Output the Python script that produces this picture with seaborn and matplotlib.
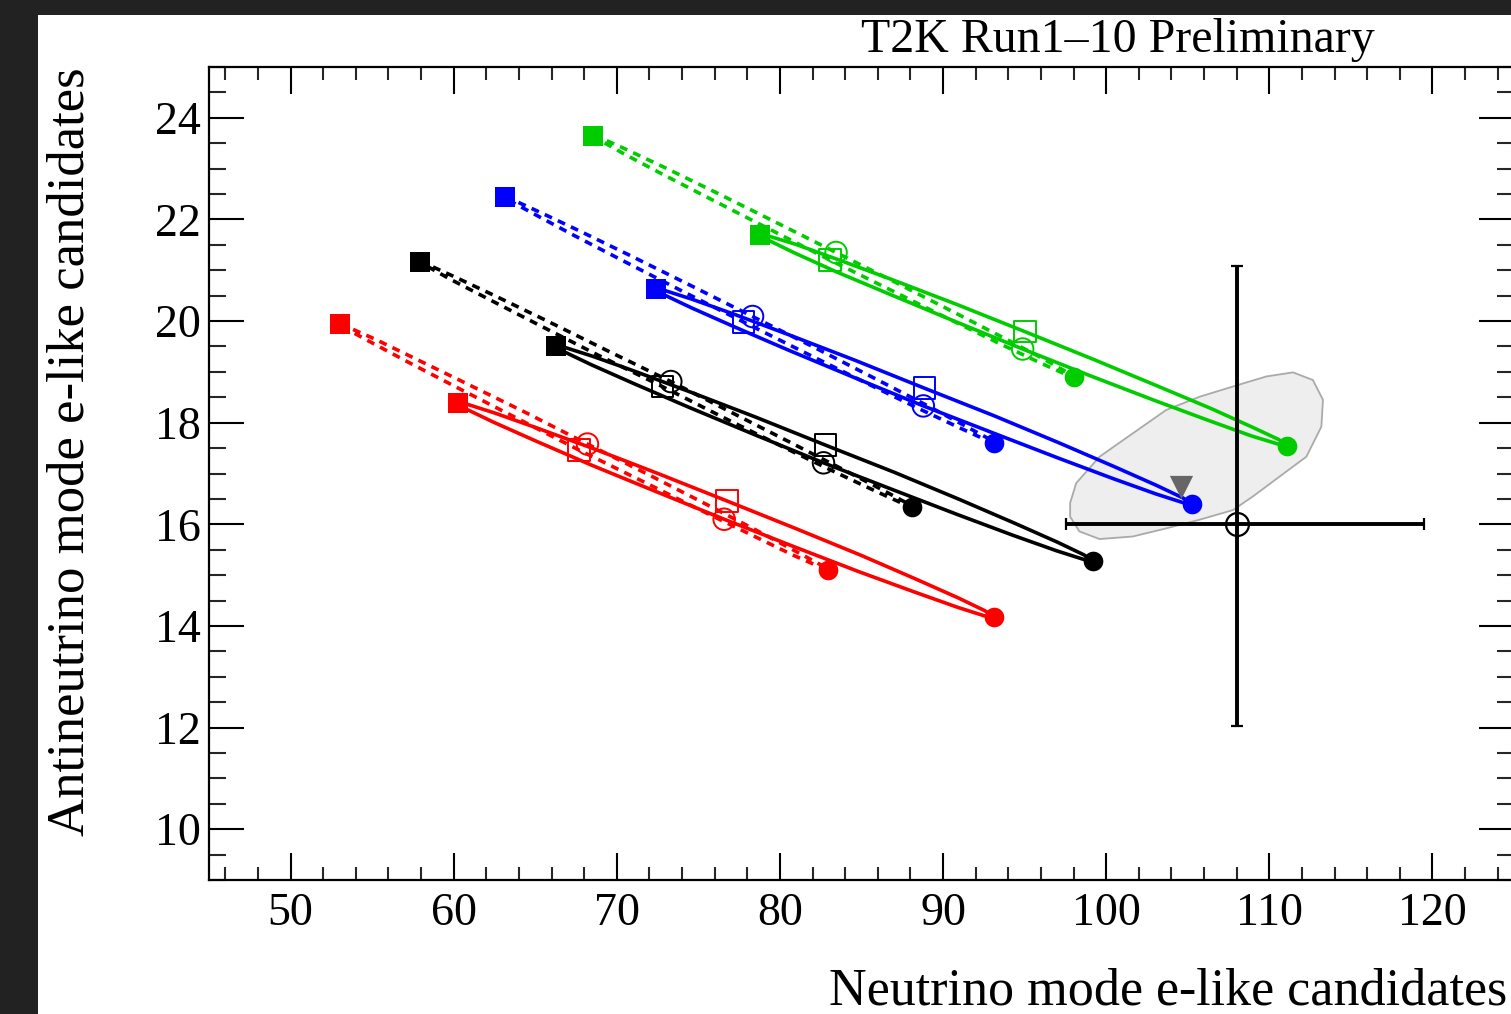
import matplotlib
matplotlib.use("Agg")
import matplotlib.pyplot as plt
from matplotlib.patches import Rectangle, Polygon
from matplotlib.ticker import MultipleLocator
import seaborn as sns

# ---------------- data ----------------
# Each loop: 24 points around the curve; index 0 = filled square, 6 and 18 = open markers, 12 = filled circle
red_solid_x = [60.28, 60.86, 62.52, 65.15, 68.56, 72.52, 76.75, 81.02, 84.97, 88.35, 90.94, 92.56,
               93.10, 92.52, 90.86, 88.23, 84.82, 80.86, 76.58, 72.36, 68.41, 65.03, 62.44, 60.82]
red_solid_y = [18.38, 18.36, 18.19, 17.89, 17.49, 17.00, 16.46, 15.91, 15.39, 14.92, 14.55, 14.30,
               14.18, 14.20, 14.37, 14.67, 15.07, 15.56, 16.10, 16.65, 17.17, 17.64, 18.01, 18.26]
red_dash_x = [53.01, 53.59, 55.14, 57.58, 60.72, 64.35, 68.20, 72.11, 75.69, 78.75, 81.08, 82.52,
              82.96, 82.39, 80.83, 78.39, 75.25, 71.62, 67.69, 63.86, 60.28, 57.22, 54.89, 53.45]
red_dash_y = [19.94, 19.87, 19.65, 19.27, 18.78, 18.21, 17.58, 16.95, 16.36, 15.85, 15.45, 15.20,
              15.10, 15.17, 15.39, 15.77, 16.26, 16.84, 17.46, 18.09, 18.68, 19.19, 19.59, 19.84]

black_solid_x = [66.26, 66.83, 68.49, 71.12, 74.54, 78.51, 82.78, 87.04, 91.00, 94.40, 97.00, 98.63,
                 99.18, 98.61, 96.95, 94.32, 90.90, 86.93, 82.67, 78.40, 74.44, 71.04, 68.44, 66.81]
black_solid_y = [19.51, 19.48, 19.31, 19.01, 18.60, 18.11, 17.56, 17.02, 16.49, 16.02, 15.65, 15.40,
                 15.28, 15.31, 15.48, 15.78, 16.19, 16.68, 17.21, 17.77, 18.30, 18.77, 19.14, 19.39]
black_dash_x = [57.91, 58.49, 60.06, 62.51, 65.68, 69.34, 73.31, 77.16, 80.77, 83.86, 86.21, 87.65,
                88.10, 87.52, 85.95, 83.50, 80.33, 76.67, 72.80, 68.85, 65.24, 62.15, 59.81, 58.36]
black_dash_y = [21.17, 21.10, 20.87, 20.50, 20.01, 19.43, 18.81, 18.18, 17.59, 17.08, 16.69, 16.44,
                16.34, 16.41, 16.64, 17.01, 17.50, 18.08, 18.71, 19.33, 19.92, 20.43, 20.82, 21.08]

blue_solid_x = [72.39, 72.96, 74.61, 77.23, 80.63, 84.59, 88.85, 93.10, 97.06, 100.46, 103.06, 104.70,
                105.25, 104.68, 103.03, 100.42, 97.01, 93.05, 88.79, 84.54, 80.58, 77.18, 74.58, 72.94]
blue_solid_y = [20.63, 20.60, 20.43, 20.13, 19.72, 19.23, 18.68, 18.14, 17.61, 17.14, 16.77, 16.52,
                16.40, 16.43, 16.60, 16.90, 17.31, 17.80, 18.33, 18.89, 19.42, 19.89, 20.26, 20.51]
blue_dash_x = [63.15, 63.73, 65.30, 67.74, 70.88, 74.53, 78.32, 82.30, 85.88, 88.95, 91.28, 92.71,
               93.15, 92.57, 91.01, 88.56, 85.42, 81.77, 77.78, 74.00, 70.42, 67.35, 65.03, 63.59]
blue_dash_y = [22.44, 22.37, 22.14, 21.77, 21.28, 20.70, 20.09, 19.45, 18.86, 18.35, 17.95, 17.70,
               17.60, 17.67, 17.90, 18.27, 18.76, 19.34, 19.98, 20.59, 21.18, 21.69, 22.09, 22.34]

green_solid_x = [78.77, 79.34, 80.97, 83.56, 86.92, 90.82, 95.03, 99.19, 103.08, 106.42, 108.97, 110.57,
                 111.10, 110.53, 108.90, 106.31, 102.95, 99.05, 94.88, 90.68, 86.79, 83.45, 80.90, 79.30]
green_solid_y = [21.70, 21.67, 21.51, 21.21, 20.81, 20.33, 19.79, 19.25, 18.73, 18.28, 17.91, 17.67,
                 17.55, 17.58, 17.74, 18.04, 18.44, 18.92, 19.45, 20.00, 20.52, 20.97, 21.34, 21.59]
green_dash_x = [68.56, 69.11, 70.63, 73.01, 76.08, 79.65, 83.44, 87.28, 90.81, 93.83, 96.13, 97.56,
                98.01, 97.46, 95.94, 93.57, 90.49, 86.92, 83.07, 79.29, 75.76, 72.74, 70.44, 69.01]
green_dash_y = [23.65, 23.59, 23.37, 23.01, 22.53, 21.96, 21.35, 20.73, 20.15, 19.65, 19.26, 19.00,
                18.90, 18.96, 19.18, 19.54, 20.02, 20.59, 21.20, 21.82, 22.40, 22.90, 23.29, 23.55]

# Data point with asymmetric errors
data_x = [108.0]
data_y = [16.0]
data_xerr_lo, data_xerr_hi = [10.44], [11.47]
data_yerr_lo, data_yerr_hi = [3.97], [5.09]

# Best-fit marker
bf_x = [104.56]
bf_y = [16.74]

# Gray confidence region contour
region_x = [97.79, 98.16, 99.59, 101.63, 103.68, 105.72, 107.75, 109.82, 111.45, 112.67, 113.29,
            113.19, 112.27, 110.63, 109.00, 107.77, 105.72, 103.68, 101.63, 99.59, 98.36, 97.79]
region_y = [16.42, 16.81, 17.33, 17.79, 18.25, 18.51, 18.71, 18.91, 18.99, 18.84, 18.45,
            17.92, 17.33, 16.94, 16.55, 16.28, 16.09, 15.92, 15.76, 15.71, 15.86, 16.15]

x_ticks = [50, 60, 70, 80, 90, 100, 110, 120]
y_ticks = [10, 12, 14, 16, 18, 20, 22, 24]

colors = {"red": "#ff0000", "black": "#000000", "blue": "#0000ff", "green": "#00cc00"}
loops = [
    ("red", red_solid_x, red_solid_y, red_dash_x, red_dash_y),
    ("black", black_solid_x, black_solid_y, black_dash_x, black_dash_y),
    ("blue", blue_solid_x, blue_solid_y, blue_dash_x, blue_dash_y),
    ("green", green_solid_x, green_solid_y, green_dash_x, green_dash_y),
]

# ---------------- style ----------------
sns.set_theme(style="ticks")
plt.rcParams["font.family"] = ["Liberation Serif", "DejaVu Serif"]

W, H = 1511, 1014
fig = plt.figure(figsize=(W / 100, H / 100), dpi=100, facecolor="#222222")
fig.patches.append(Rectangle((38 / W, 0), 1 - 38 / W, (H - 15) / H, transform=fig.transFigure,
                             facecolor="white", edgecolor="none", zorder=-10))

ax = fig.add_axes([209 / W, (H - 880) / H, (1514 - 209) / W, (880 - 67) / H])
ax.set_facecolor("white")
ax.set_xlim(45, 125)
ax.set_ylim(9, 25)

# gray region
ax.add_patch(Polygon(list(zip(region_x, region_y)), closed=True, facecolor="#eeeeee",
                     edgecolor="#aaaaaa", linewidth=1.3, zorder=1))

lw = 2.6
for name, sx, sy, dx, dy in loops:
    c = colors[name]
    sns.lineplot(x=sx + [sx[0]], y=sy + [sy[0]], sort=False, estimator=None, color=c,
                 linewidth=lw, ax=ax, zorder=3)
    sns.lineplot(x=dx + [dx[0]], y=dy + [dy[0]], sort=False, estimator=None, color=c,
                 linewidth=lw, linestyle=(0, (2.2, 1.8)), ax=ax, zorder=3)
    for xs, ys, up_m, lo_m in [(sx, sy, "s", "o"), (dx, dy, "o", "s")]:
        ax.scatter([xs[0]], [ys[0]], marker="s", s=190, color=c, linewidths=0, zorder=5)
        ax.scatter([xs[12]], [ys[12]], marker="o", s=200, color=c, linewidths=0, zorder=5)
        ax.scatter([xs[6]], [ys[6]], marker=up_m, s=240, facecolors="none", edgecolors=c,
                   linewidths=1.4, zorder=5)
        ax.scatter([xs[18]], [ys[18]], marker=lo_m, s=240, facecolors="none", edgecolors=c,
                   linewidths=1.4, zorder=5)

# best-fit triangle
sns.scatterplot(x=bf_x, y=bf_y, marker="v", s=280, color="#666666", linewidth=0, ax=ax, zorder=4)

# data point
ax.errorbar(data_x, data_y, xerr=[data_xerr_lo, data_xerr_hi], yerr=[data_yerr_lo, data_yerr_hi],
            fmt="o", ms=16.5, mfc="none", mec="black", mew=1.6, ecolor="black",
            elinewidth=2.8, capsize=4, capthick=2.8, color="black", zorder=6)

# axes styling
for sp in ax.spines.values():
    sp.set_linewidth(1.6)
    sp.set_color("black")
ax.xaxis.set_minor_locator(MultipleLocator(2))
ax.yaxis.set_minor_locator(MultipleLocator(0.5))
ax.set_xticks(x_ticks)
ax.set_yticks(y_ticks)
ax.set_xticklabels([str(v) for v in x_ticks])
ax.set_yticklabels([str(v) for v in y_ticks])
ax.tick_params(axis="x", which="major", direction="in", length=19.5, width=1.5, top=True,
               bottom=True, labelsize=33, pad=9, colors="black")
ax.tick_params(axis="x", which="minor", direction="in", length=9.5, width=1.5, top=True, bottom=True)
ax.tick_params(axis="y", which="major", direction="in", length=25, width=1.5, left=True,
               right=True, labelsize=33, pad=6, colors="black")
ax.tick_params(axis="y", which="minor", direction="in", length=12, width=1.5, left=True, right=True)
ax.grid(False)

ax.set_xlabel("Neutrino mode e-like candidates", fontsize=37.5, loc="right", color="black")
ax.set_ylabel("Antineutrino mode e-like candidates", fontsize=38, loc="top", color="black")
ax.xaxis.set_label_coords(0.9946, -0.108)
ax.yaxis.set_label_coords(-0.088, 1.0)

fig.text(1118 / W, 1 - 40 / H, "T2K Run1\u201310 Preliminary", fontsize=34.5, ha="center",
         va="center", color="black")

fig.savefig("out.png", dpi=100, facecolor=fig.get_facecolor())
